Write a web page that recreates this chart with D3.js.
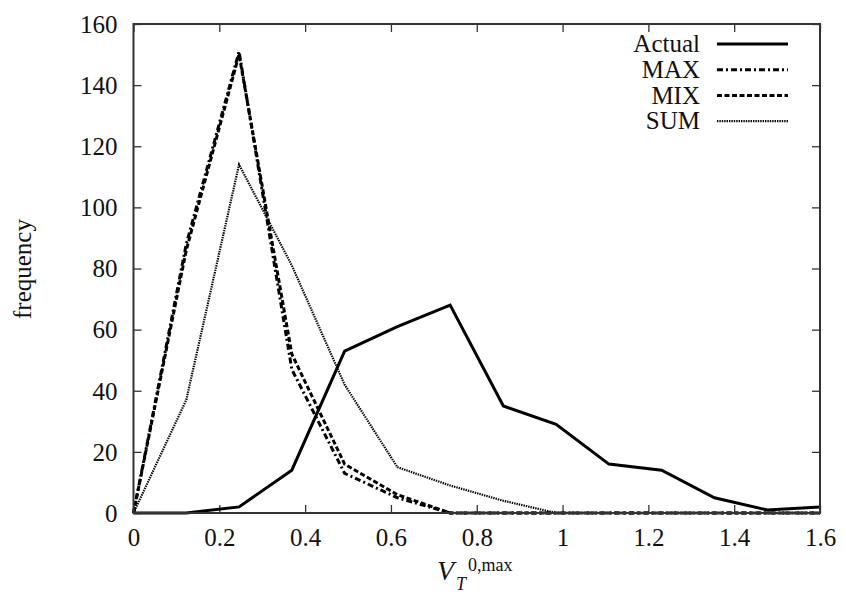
<!DOCTYPE html>
<html lang="en">
<head>
<meta charset="utf-8">
<title>frequency of V_T</title>
<script src="https://cdn.jsdelivr.net/npm/d3@7"></script>
<style>
  body { margin: 0; background: #fff; }
  text { font-family: "Liberation Serif", "DejaVu Serif", serif; fill: #111; }
</style>
</head>
<body>
<script>
// values
var xValues = [0, 0.123, 0.246, 0.369, 0.492, 0.615, 0.738, 0.862, 0.985, 1.108, 1.231, 1.354, 1.477, 1.6];
var actualVals = [0, 0, 2, 14, 53, 61, 68, 35, 29, 16, 14, 5, 1, 2];
var maxVals = [0, 88, 151, 47, 13, 5, 0, 0, 0, 0, 0, 0, 0, 0];
var mixVals = [0, 86, 150, 52, 16, 6, 0, 0, 0, 0, 0, 0, 0, 0];
var sumVals = [0, 37, 114, 81, 42, 15, 9, 4, 0, 0, 0, 0, 0, 0];
var xTicks = [0, 0.2, 0.4, 0.6, 0.8, 1, 1.2, 1.4, 1.6];
var yTicks = [0, 20, 40, 60, 80, 100, 120, 140, 160];

var series = [
  {name: "Actual", values: actualVals, dash: null, width: 3},
  {name: "MAX", values: maxVals, dash: "6,3,2,3", width: 3},
  {name: "MIX", values: mixVals, dash: "5,2.5", width: 3},
  {name: "SUM", values: sumVals, dash: "1.4,1", width: 2.2}
];

var W = 846, H = 595;
var margin = {top: 24, right: 26, bottom: 82, left: 133.5};
var w = W - margin.left - margin.right;
var h = H - margin.top - margin.bottom;

var svg = d3.select("body").append("svg")
  .attr("width", W).attr("height", H);
var g = svg.append("g")
  .attr("transform", "translate(" + margin.left + "," + margin.top + ")");

var x = d3.scaleLinear().domain([0, 1.6]).range([0, w]);
var y = d3.scaleLinear().domain([0, 160]).range([h, 0]);

// inward ticks on all four sides, gnuplot style
function tickAxis(axis, tr) {
  var a = g.append("g").attr("transform", tr).call(axis);
  a.select(".domain").remove();
  a.selectAll(".tick line").attr("stroke", "#333").attr("stroke-width", 1.3);
  return a;
}
var xb = tickAxis(d3.axisTop(x).tickValues(xTicks).tickSize(8).tickFormat(d3.format("")), "translate(0," + h + ")");
xb.selectAll(".tick text").attr("y", 33).attr("dy", 0).style("font-size", "25px");
tickAxis(d3.axisBottom(x).tickValues(xTicks).tickSize(8).tickFormat(""), "translate(0,0)");
var yl = tickAxis(d3.axisRight(y).tickValues(yTicks).tickSize(8).tickFormat(d3.format("")), "translate(0,0)");
yl.selectAll(".tick text").attr("x", -16).attr("text-anchor", "end").attr("dy", "0.33em").style("font-size", "25px");
tickAxis(d3.axisLeft(y).tickValues(yTicks).tickSize(8).tickFormat(""), "translate(" + w + ",0)");
svg.selectAll(".tick text").attr("fill", "#111").style("font-family", "'Liberation Serif', serif");

// lines
var line = d3.line()
  .x(function(d, i) { return x(xValues[i]); })
  .y(function(d) { return y(d); });

series.slice().reverse().forEach(function(s) {
  g.append("path")
    .datum(s.values)
    .attr("d", line)
    .attr("fill", "none")
    .attr("stroke", "#000")
    .attr("stroke-width", s.width)
    .attr("stroke-dasharray", s.dash)
    .attr("stroke-linejoin", "miter");
});

// frame
g.append("rect")
  .attr("width", w).attr("height", h)
  .attr("fill", "none").attr("stroke", "#333").attr("stroke-width", 2);

// legend
var leg = g.selectAll(".leg").data(series).enter().append("g")
  .attr("transform", function(d, i) { return "translate(0," + (20 + i * 25.7) + ")"; });
leg.append("text")
  .attr("x", 700 - margin.left).attr("dy", "0.33em")
  .attr("text-anchor", "end").style("font-size", "25px")
  .text(function(d) { return d.name; });
leg.append("line")
  .attr("x1", 717 - margin.left).attr("x2", 788 - margin.left)
  .attr("stroke", "#000")
  .attr("stroke-width", function(d) { return d.width; })
  .attr("stroke-dasharray", function(d) { return d.dash; });

// axis titles
svg.append("text")
  .attr("transform", "translate(31,269) rotate(-90)")
  .attr("text-anchor", "middle").style("font-size", "25px")
  .text("frequency");

var xl = svg.append("g");
xl.append("text").attr("x", 437).attr("y", 580)
  .style("font-size", "28px").style("font-style", "italic").text("V");
xl.append("text").attr("x", 456).attr("y", 590)
  .style("font-size", "18px").style("font-style", "italic").text("T");
xl.append("text").attr("x", 468).attr("y", 571)
  .style("font-size", "18px").text("0,max");
</script>
</body>
</html>
